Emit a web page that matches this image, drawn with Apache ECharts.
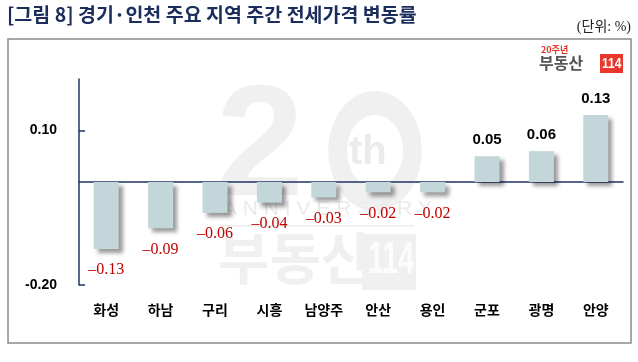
<!DOCTYPE html>
<html><head><meta charset="utf-8">
<script src="https://cdn.jsdelivr.net/npm/echarts@6/dist/echarts.min.js"></script>
<style>html,body{margin:0;padding:0;background:#fff}#c{width:638px;height:362px}</style>
</head><body><div id="c"></div>
<script>
const categories = ['화성','하남','구리','시흥','남양주','안산','용인','군포','광명','안양'];
const values = [-0.13,-0.09,-0.06,-0.04,-0.03,-0.02,-0.02,0.05,0.06,0.13];
const yTickLabels = [0.10, -0.20];

const chart = echarts.init(document.getElementById('c'));
const wm = '#f0f0f0';
const navy = '#1f3566';
chart.setOption({
  animation: false,
  grid: {left: 79, right: 15, top: 79, bottom: 77},
  xAxis: [{
    type: 'category', data: categories, position: 'bottom',
    axisLine: {onZero: true, lineStyle: {color: navy, width: 1.5}},
    axisTick: {inside: true, length: 6, lineStyle: {color: navy, width: 1.5}},
    axisLabel: {show: false}, splitLine: {show: false}
  }, {
    type: 'category', data: categories, position: 'bottom',
    axisLine: {show: false, onZero: false}, axisTick: {show: false},
    axisLabel: {margin: 18, fontSize: 14, fontWeight: 'bold', color: '#000', fontFamily: 'Noto Sans CJK KR'}
  }],
  yAxis: {
    type: 'value', min: -0.2, max: 0.2, interval: 0.1,
    axisLine: {show: true, lineStyle: {color: navy, width: 1.5}},
    axisTick: {show: true, inside: true, length: 6, customValues: yTickLabels, lineStyle: {color: navy, width: 1.5}},
    axisLabel: {customValues: yTickLabels, margin: 22, fontSize: 14, fontWeight: 'bold', color: '#000',
      fontFamily: 'Liberation Sans', formatter: v => (v < 0 ? '-' : '') + Math.abs(v).toFixed(2)},
    splitLine: {show: false}
  },
  series: [{
    type: 'bar', xAxisIndex: 0, barWidth: 25,
    data: values.map(v => ({
      value: v,
      label: v < 0
        ? {position: 'bottom', distance: 13, color: '#c00000', fontSize: 16, fontFamily: 'Liberation Serif'}
        : {position: 'top', distance: 9, color: '#000', fontSize: 15, fontWeight: 'bold', fontFamily: 'Liberation Sans'}
    })),
    itemStyle: {color: '#c3d6da', shadowColor: 'rgba(0,0,0,0.4)', shadowBlur: 4, shadowOffsetX: 4, shadowOffsetY: 4},
    label: {
      show: true,
      formatter: p => p.value < 0 ? '–' + Math.abs(p.value).toFixed(2) : p.value.toFixed(2)
    }
  }],
  graphic: [
    // watermark
    {type: 'text', left: 216, top: 72, z: -10, silent: true,
     style: {text: '2', font: 'bold 158px "Liberation Sans"', fill: wm}},
    {type: 'ring', z: -10, silent: true, shape: {cx: 375, cy: 151, r: 60, r0: 36}, scaleX: 0.78, originX: 375, originY: 151,
     style: {fill: wm}},
    {type: 'text', left: 349, top: 133, z: -10, silent: true,
     style: {text: 'th', font: 'bold 40px "Liberation Sans"', fill: '#ebebeb'}},
    {type: 'text', left: 223, top: 199, z: -10, silent: true,
     style: {text: 'A N N I V E R S A R Y', font: '21px "Liberation Sans"', fill: '#ebebeb'}},
    {type: 'rect', z: -10, silent: true, shape: {x: 220, y: 225, width: 194, height: 1.5}, style: {fill: '#ebebeb'}},
    {type: 'text', left: 218, top: 230, z: -10, silent: true,
     style: {text: '부동산', font: 'bold 56px "Noto Sans CJK KR"', fill: wm}},
    {type: 'rect', z: -10, silent: true, shape: {x: 362, y: 234, width: 54, height: 56}, style: {fill: wm}},
    {type: 'text', x: 368, y: 239, scaleX: 0.65, z: -9, silent: true,
     style: {text: '114', font: 'bold 44px "Liberation Sans"', fill: '#fcfcfc'}},
    // frame
    {type: 'rect', silent: true, shape: {x: 8, y: 39, width: 623, height: 304},
     style: {fill: 'none', stroke: '#8a8a8a', lineWidth: 1.5}},
    // title
    {type: 'text', left: 7, top: 5, style: {text: '[그림 8] 경기·인천 주요 지역 주간 전세가격 변동률',
      font: 'bold 19.5px "Noto Sans CJK KR"', fill: '#1b2d5c'}},
    {type: 'text', right: 7, top: 20, style: {text: '(단위: %)', font: '14px "Liberation Serif", "Noto Sans CJK KR"', fill: '#222'}},
    // logo
    {type: 'text', left: 541, top: 45, style: {text: '20주년', font: 'bold 9px "Noto Sans CJK KR"', fill: '#e2362b'}},
    {type: 'text', left: 539, top: 55, style: {text: '부동산', font: 'bold 16px "Noto Sans CJK KR"', fill: '#555'}},
    {type: 'rect', shape: {x: 600, y: 54, width: 23, height: 19}, style: {fill: '#e9372b'}},
    {type: 'text', x: 602, y: 56, scaleX: 0.8, style: {text: '114', font: 'bold 15px "Liberation Sans"', fill: '#fff'}}
  ]
});
</script></body></html>
